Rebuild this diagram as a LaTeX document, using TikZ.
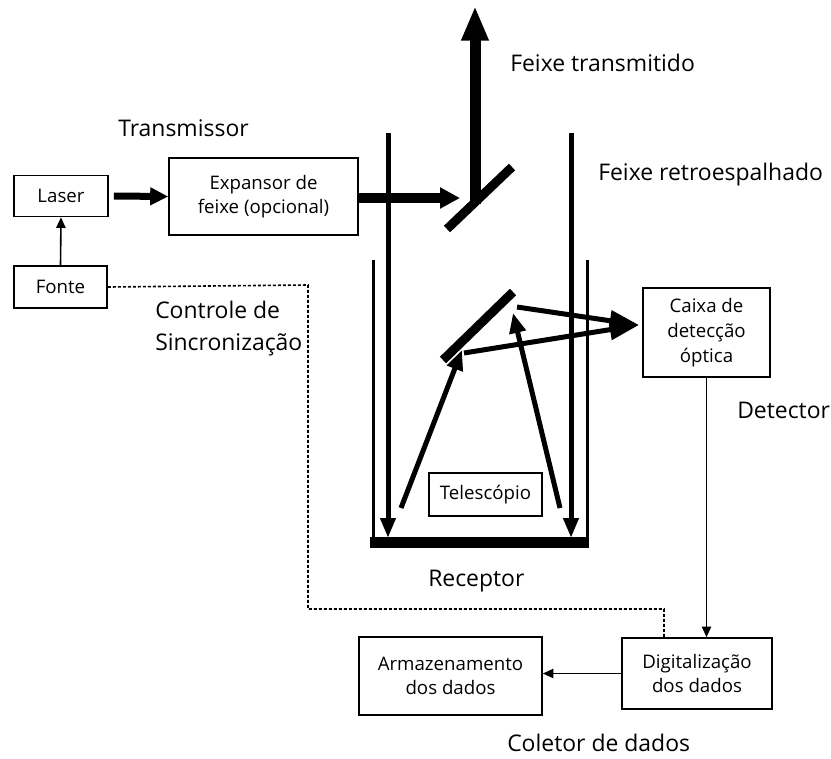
\documentclass[tikz,border=0pt]{standalone}
\usepackage{fontspec}
\setmainfont{Open Sans}
\usetikzlibrary{arrows.meta}
\begin{document}
\begin{tikzpicture}[x=0.75pt,y=-0.75pt,
  box/.style={draw,line width=1.2pt,align=center,inner sep=0pt,font=\fontsize{14}{18.5}\selectfont},
  lbl/.style={font=\fontsize{17.2}{24}\selectfont,inner sep=0pt,anchor=base west,align=left},
  thin/.style={line width=1.2pt,-{Triangle[length=8pt,width=7pt]}},
  syncline/.style={line width=1.2pt,dash pattern=on 2.25pt off 1.5pt},
  beam/.style={line width=3.75pt,-{Triangle[length=15pt,width=12pt]}},
  detbeam/.style={line width=3.75pt,-{Triangle[length=22pt,width=15pt]}},
  mirror/.style={line width=6.75pt}]
\useasboundingbox (0,0) rectangle (831,758);

% boxes
\node[box,minimum width=70.5pt,minimum height=30.75pt] (laser) at (61,196) {Laser};
\node[box,minimum width=69.75pt,minimum height=31.5pt] (fonte) at (60.5,287) {Fonte};
\node[box,minimum width=141.75pt,minimum height=57.75pt] (exp) at (263.5,196.5) {Expansor de\\feixe (opcional)};
\node[box,minimum width=95.25pt,minimum height=66.75pt] (caixa) at (706.5,332.5) {Caixa de\\detecção\\óptica};
\node[box,minimum width=84.75pt,minimum height=32.25pt] (tele) at (485.5,494.5) {Telescópio};
\node[box,minimum width=112.5pt,minimum height=53.25pt] (digi) at (697,673.5) {Digitalização\\dos dados};
\node[box,minimum width=137.25pt,minimum height=58.5pt] (arm) at (450.5,676) {Armazenamento\\dos dados};

% labels
\node[lbl] (ltrans) at (118,136) {Transmissor};
\node[lbl] (lft) at (510,71) {Feixe transmitido};
\node[lbl] (lfr) at (598,180) {Feixe retroespalhado};
\node[lbl] (lctl) at (155,350) {Controle de\\Sincronização};
\node[lbl] (ldet) at (737,418) {Detector};
\node[lbl] (lrec) at (428,586) {Receptor};
\node[lbl] (lcol) at (507,751) {Coletor de dados};

% connectors
\draw[thin] (fonte.north) -- (laser.south);
\draw[line width=5.25pt,-{Triangle[length=13.5pt,width=12.75pt]}] (laser.east)++(5,0) coordinate (la) (la) -- (exp.west);
\coordinate (m1) at (460,198);
\coordinate (top) at (475,6);
\draw[line width=7.5pt,-{Triangle[length=15pt,width=15pt]}] (exp.east |- m1) -- (m1);
\draw[line width=8.25pt,-{Triangle[length=26pt,width=19pt]}] (475,204) coordinate (ub) (ub) -- (top);
\draw[mirror] (447,229) coordinate (ma) -- (512,167) coordinate (mb);

% tube
\coordinate (tl) at (388,133);
\coordinate (tr) at (571,133);
\draw[line width=3.75pt,-{Triangle[length=15pt,width=11pt]}] (tl) -- (388,538);
\draw[line width=3.75pt,-{Triangle[length=15pt,width=11pt]}] (tr) -- (571,538);
\draw[line width=2.25pt] (373,260) -- (373,540);
\draw[line width=2.25pt] (587,260) -- (587,540);
\draw[line width=8.25pt] (370,542.5) -- (589,542.5);

% lower mirror and rays
\draw[mirror] (443,360) -- (513,292);
\coordinate (det) at (639,325);
\draw[beam] (401,508) -- (462,350);
\draw[beam] (560,508) -- (513,313);
\draw[detbeam] (464,353) -- (det);
\draw[detbeam] (517,307) -- (det);

% detector chain
\draw[thin] (caixa.south) -- (caixa.south |- digi.north);
\draw[thin] (digi.west) -- (arm.east |- digi.west);
\draw[syncline] (fonte.east) -- (308,285) -- (308,609) -- (664,609) -- (664,638);
\end{tikzpicture}
\end{document}
